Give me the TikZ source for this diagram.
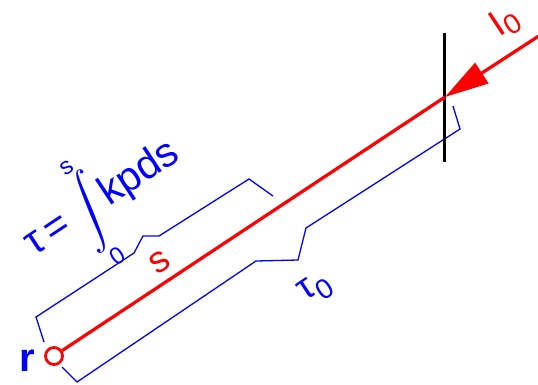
\documentclass[tikz,border=0pt]{standalone}
\usepackage{fontspec}
\setmainfont{Liberation Sans}
\usepackage{graphicx}
\usetikzlibrary{arrows.meta}
\definecolor{rayred}{RGB}{255,0,0}
\definecolor{pathblue}{RGB}{0,0,255}

\begin{document}
\begin{tikzpicture}[
    x=1pt, y=-1pt,
    ray/.style={draw=rayred, line width=3.2pt},
    brace/.style={draw=pathblue, line width=1.3pt},
    lbl/.style={font=\fontsize{37}{40}\selectfont, inner sep=0pt, rotate=33.5}
  ]
  \useasboundingbox (0,0) rectangle (538,384);

  % Points on the ray
  \node (obs) at (54,356) [circle, draw=rayred, line width=2.8pt, fill=white, minimum size=17pt, inner sep=0pt] {};
  \coordinate (hit) at (445,97);
  \coordinate (far) at (548,30);
  \coordinate (scrtop) at (444,33);
  \coordinate (scrbot) at (444,162);

  % Brackets for s and tau_0
  \draw[brace] (44,342) -- (36,317) -- (134,253) -- (143,236) -- (159,236) -- (249,179) -- (273,196);
  \draw[brace] (62,367) -- (77,382) -- (256,261) -- (298,260) -- (306,228) -- (460,129) -- (453,106);

  % Screen and ray
  \draw[line width=3pt] (scrtop) -- (scrbot);
  \draw[ray] (obs) -- (hit);
  \draw[ray, -{Triangle[length=44pt, width=24pt]}] (far) -- (hit);

  % Labels
  \node (rlbl) at (27,361) [font=\fontsize{40}{42}\selectfont\bfseries, text=pathblue, inner sep=0pt] {r};
  \node (slbl) at (160,262) [lbl, text=rayred] {s};
  \node (taulbl) at (316,289) [lbl, text=pathblue] {τ\raisebox{-10pt}{\fontsize{28}{28}\selectfont 0}};
  \node (Ilbl) at (505,22) [lbl, text=rayred] {I\raisebox{-6pt}{\fontsize{28}{28}\selectfont 0}};
  \node (optdepth) at (34,257) [lbl, anchor=base west, text=pathblue, font=\fontsize{41}{44}\selectfont]
    {τ\,=\,$\mathop{\vcenter{\hbox{\scalebox{3.7}{\fontsize{10}{12}\selectfont$\displaystyle\int$}}}}\limits_{\hbox{\fontsize{24}{24}\selectfont 0\kern4pt}}^{\hbox{\kern8pt\fontsize{24}{24}\selectfont s}}$kpds};

\end{tikzpicture}
\end{document}
